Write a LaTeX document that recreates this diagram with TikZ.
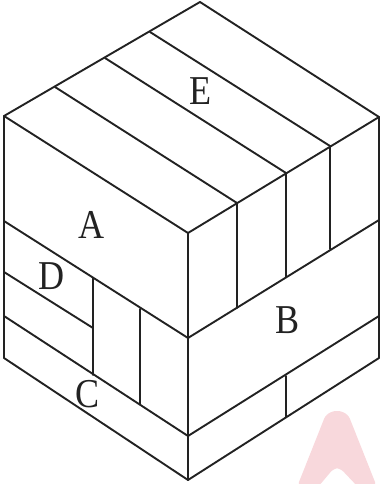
\documentclass[tikz,border=0pt]{standalone}
\usepackage{fontspec}
\setmainfont{Liberation Serif}
\definecolor{wm}{HTML}{F8D8DC}
\definecolor{ink}{HTML}{222222}
\tikzset{edge/.style={draw=ink,line width=1.9pt,line join=round,line cap=round},
 lab/.style={text=ink,inner sep=0pt,font=\fontsize{41}{41}\selectfont,xscale=.88}}
\begin{document}
\begin{tikzpicture}[x=1pt,y=-1pt]
\useasboundingbox (0,0) rectangle (380,484);
\fill[wm,rounded corners=5pt] (297,487) -- (326,414) -- (337,410) -- (348,414) -- (377,487) -- (358,487) -- (340,468) -- (334,468) -- (318,487) -- cycle;
\coordinate (T) at (200,2);
\coordinate (L) at (4,116);
\coordinate (R) at (379,117);
\coordinate (M) at (188,233);
\coordinate (LB) at (4,358);
\coordinate (MB) at (188,480);
\coordinate (RB) at (379,358);
\coordinate (LA) at (4,221);
\coordinate (MA) at (188,338);
\coordinate (RA) at (379,220);
\coordinate (LC) at (4,316);
\coordinate (MC) at (188,436);
\coordinate (RC) at (379,316);
\draw[edge] (T) -- (L) -- (LB) -- (MB) -- (RB) -- (R) -- cycle;
\draw[edge] (L) -- (M) -- (R);
\draw[edge] (M) -- (MB);
\draw[edge] (LA) -- (MA) -- (RA);
\draw[edge] (LC) -- (MC) -- (RC);
\draw[edge] (150,32) -- (330,146) -- (330,249);
\draw[edge] (105,58) -- (286,173) -- (286,277);
\draw[edge] (55,87) -- (237,203) -- (237,308);
\draw[edge] (93,278) -- (93,375);
\draw[edge] (140,309) -- (140,404);
\draw[edge] (4,272) -- (93,328);
\draw[edge] (286,376) -- (286,417);
\node[lab] (a) at (91.5,225) {A};
\node[lab] (e) at (200.5,91) {E};
\node[lab] (d) at (52,276) {D};
\node[lab] (b) at (287.5,320) {B};
\node[lab] (c) at (87.5,394) {C};
\end{tikzpicture}
\end{document}
